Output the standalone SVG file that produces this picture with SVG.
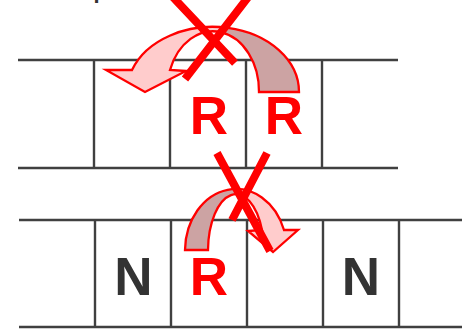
<svg xmlns="http://www.w3.org/2000/svg" width="462" height="329" viewBox="0 0 462 329">
  <defs>
    <linearGradient id="gTop" gradientUnits="userSpaceOnUse" x1="100" y1="0" x2="300" y2="0">
      <stop offset="0.61" stop-color="#FFCCCC"/>
      <stop offset="0.61" stop-color="#CCA3A3"/>
    </linearGradient>
    <linearGradient id="gBot" gradientUnits="userSpaceOnUse" x1="180" y1="0" x2="300" y2="0">
      <stop offset="0.45" stop-color="#CCA3A3"/>
      <stop offset="0.45" stop-color="#FFCCCC"/>
    </linearGradient>
  </defs>
  <style>
    .grid { stroke: #404040; stroke-width: 2.4; fill: none; }
    .lbl { font-family: "Liberation Sans", Arial, sans-serif; font-weight: bold; font-size: 53px; text-anchor: middle; }
    .red { fill: #FF0000; }
    .dark { fill: #333333; }
    .arrow { stroke: #FF0000; stroke-width: 2.3; stroke-linejoin: miter; }
    .cross { stroke: #FF0000; stroke-width: 8; fill: none; }
  </style>
  <rect width="462" height="329" fill="#FFFFFF"/>
  <text x="93.5" y="-1.8" font-family="Liberation Sans, Arial, sans-serif" font-weight="bold" font-size="22" fill="#333333">p</text>

  <g id="top-row">
    <path class="grid" d="M18 60H398M18 168H398M94 60V168M170 60V168M246 60V168M322 60V168"/>
    <text class="lbl red" x="209" y="134">R</text>
    <text class="lbl red" x="284" y="134">R</text>
  </g>

  <g id="bottom-row">
    <path class="grid" d="M19 220H462M19 327H462M95 220V327M171 220V327M247 220V327M323 220V327M399 220V327"/>
    <text class="lbl dark" x="133.5" y="295">N</text>
    <text class="lbl red" x="209" y="295">R</text>
    <text class="lbl dark" x="361" y="295">N</text>
  </g>

  <g id="connectors">
    <path class="arrow" fill="url(#gTop)" d="M299 92A86 65 0 0 0 132 70L106 70L145 92L186 71L170 70A46 60 0 0 1 259 92Z"/>
    <path class="arrow" fill="url(#gBot)" d="M185 250A51 62 0 0 1 284 230L298 230L273 252L248 231L262 230A28 57 0 0 0 208 250Z"/>
  </g>

  <g id="crosses">
    <path class="cross" d="M170 -6L235 63M249 -4L185 79"/>
    <path class="cross" d="M217 153L270 251M267 153L232 220"/>
  </g>
</svg>
